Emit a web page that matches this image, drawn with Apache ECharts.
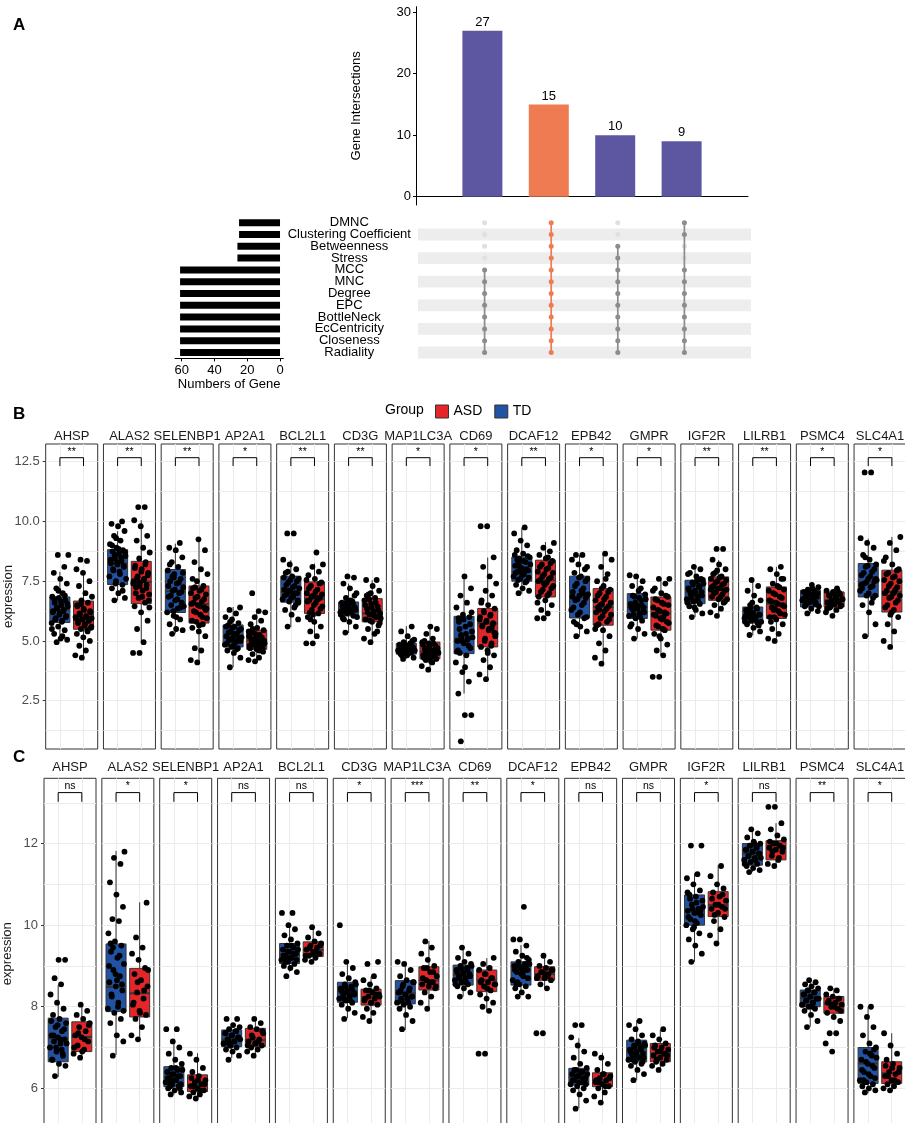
<!DOCTYPE html>
<html>
<head>
<meta charset="utf-8">
<title>Hub genes: UpSet and expression boxplots</title>
<script src="https://cdn.jsdelivr.net/npm/echarts@6.0.0/dist/echarts.min.js"></script>
<style>
  html, body { margin: 0; padding: 0; background: #fff; }
  #chart { width: 905px; height: 1123px; }
</style>
</head>
<body>
<div id="chart"></div>
<script>
// ---------- panel A data (UpSet) ----------
var setNames = ['DMNC', 'Clustering Coefficient', 'Betweenness', 'Stress', 'MCC', 'MNC',
  'Degree', 'EPC', 'BottleNeck', 'EcCentricity', 'Closeness', 'Radiality'];
var setSizes = [25, 25, 26, 26, 61, 61, 61, 61, 61, 61, 61, 61];
var interSizes = [27, 15, 10, 9];
// one row per intersection, one flag per set (same order as setNames)
var interMembers = [
  [0, 0, 0, 0, 1, 1, 1, 1, 1, 1, 1, 1],
  [1, 1, 1, 1, 1, 1, 1, 1, 1, 1, 1, 1],
  [0, 0, 1, 1, 1, 1, 1, 1, 1, 1, 1, 1],
  [1, 1, 0, 0, 1, 1, 1, 1, 1, 1, 1, 1]
];
var interTicks = [0, 10, 20, 30];
var setTicks = [0, 20, 40, 60];

// ---------- panels B / C data ----------
var genes = ['AHSP', 'ALAS2', 'SELENBP1', 'AP2A1', 'BCL2L1', 'CD3G', 'MAP1LC3A', 'CD69',
  'DCAF12', 'EPB42', 'GMPR', 'IGF2R', 'LILRB1', 'PSMC4', 'SLC4A1'];
var sigB = ['**', '**', '**', '*', '**', '**', '*', '*', '**', '*', '*', '**', '**', '*', '*'];
var sigC = ['ns', '*', '*', 'ns', 'ns', '*', '***', '**', '*', 'ns', 'ns', '*', 'ns', '**', '*'];
var ticksB = [2.5, 5, 7.5, 10, 12.5];
var ticksC = [6, 8, 10, 12];

// [lower whisker, Q1, median, Q3, upper whisker]
var boxB_TD = [
  [5.03, 5.77, 6.31, 6.84, 7.89], [6.70, 7.36, 8.24, 8.82, 9.59], [5.31, 6.19, 7.08, 7.99, 9.07],
  [3.91, 4.75, 5.17, 5.67, 6.42], [5.59, 6.62, 7.05, 7.71, 8.38], [5.33, 6.05, 6.31, 6.63, 7.40],
  [4.25, 4.45, 4.68, 4.90, 5.62], [2.80, 4.47, 5.10, 6.03, 7.68], [6.98, 7.50, 7.89, 8.51, 9.74],
  [5.17, 5.96, 6.84, 7.71, 8.59], [5.10, 5.94, 6.42, 6.98, 7.68], [6.00, 6.56, 7.05, 7.54, 8.10],
  [5.24, 5.75, 6.07, 6.42, 7.54], [6.15, 6.42, 6.77, 7.12, 7.33], [5.17, 6.84, 7.47, 8.24, 9.28]
];
var boxB_ASD = [
  [4.37, 5.49, 5.94, 6.67, 7.85], [4.96, 6.56, 7.47, 8.33, 10.05], [4.10, 5.75, 6.54, 7.30, 9.24],
  [4.12, 4.65, 5.03, 5.45, 6.28], [5.17, 6.15, 6.77, 7.47, 8.24], [4.93, 5.80, 6.15, 6.77, 7.54],
  [3.77, 4.25, 4.55, 4.95, 5.63], [3.36, 4.75, 5.73, 6.36, 8.49], [6.15, 6.84, 7.54, 8.38, 9.14],
  [4.05, 5.66, 6.42, 7.19, 8.66], [4.40, 5.45, 6.15, 6.84, 7.61], [6.07, 6.70, 7.19, 7.68, 8.38],
  [5.10, 5.94, 6.56, 7.26, 8.10], [6.03, 6.42, 6.70, 7.05, 7.19], [4.75, 6.21, 7.05, 7.96, 9.35]
];
var boxC_TD = [
  [6.28, 6.65, 7.23, 7.72, 8.53], [6.82, 7.88, 8.49, 9.54, 11.82], [5.84, 6.04, 6.28, 6.53, 7.14],
  [6.74, 7.02, 7.20, 7.43, 7.55], [8.86, 9.06, 9.29, 9.55, 10.04], [7.72, 8.11, 8.37, 8.60, 9.12],
  [7.43, 8.07, 8.33, 8.64, 9.10], [8.25, 8.53, 8.78, 9.02, 9.47], [8.33, 8.53, 8.90, 9.10, 9.51],
  [5.51, 6.08, 6.28, 6.49, 7.23], [6.20, 6.65, 6.90, 7.18, 7.67], [9.10, 10.00, 10.37, 10.74, 11.27],
  [11.30, 11.47, 11.76, 12.00, 12.37], [7.51, 8.00, 8.21, 8.41, 8.65], [5.88, 6.12, 6.61, 7.00, 8.00]
];
var boxC_ASD = [
  [6.74, 6.90, 7.26, 7.63, 8.04], [7.18, 7.75, 8.33, 8.94, 10.56], [5.75, 5.92, 6.08, 6.33, 6.86],
  [6.78, 7.02, 7.18, 7.47, 7.72], [9.10, 9.23, 9.39, 9.59, 10.00], [7.67, 8.04, 8.23, 8.43, 8.74],
  [7.96, 8.41, 8.65, 8.98, 9.61], [7.88, 8.37, 8.65, 8.90, 9.19], [8.45, 8.65, 8.80, 8.98, 9.23],
  [5.63, 6.04, 6.20, 6.38, 6.87], [6.45, 6.65, 6.86, 7.10, 7.43], [9.55, 10.21, 10.49, 10.82, 11.47],
  [11.43, 11.60, 11.88, 12.07, 12.50], [7.67, 7.84, 8.08, 8.25, 8.45], [5.96, 6.12, 6.37, 6.65, 7.35]
];

// individual samples (jittered points), one string per gene
var ptsB_TD = [
  '4.95 5.05 5.1 5.3 5.45 5.6 5.75 5.85 5.95 6.05 6.15 6.25 6.3 6.35 6.45 6.5 6.6 6.7 6.8 6.85 7.0 7.2 7.4 7.6 7.85 8.1 8.6 8.6 5.8 5.9 6.0 6.1 6.2 6.25 6.4 6.55 6.65 6.75 6.9 7.1 5.5 5.2',
  '6.7 6.8 7.0 7.2 7.35 7.5 7.7 7.8 7.95 8.1 8.2 8.25 8.35 8.45 8.55 8.65 8.75 8.8 8.9 9.05 9.2 9.4 9.6 9.8 9.9 10.0 7.4 7.6 7.9 8.0 8.15 8.3 8.4 8.5 8.6 8.7 8.85 9.0 7.1 9.3',
  '5.3 5.45 5.5 5.7 5.9 6.05 6.2 6.35 6.5 6.6 6.7 6.85 7.0 7.1 7.25 7.4 7.5 7.6 7.8 7.95 8.1 8.3 8.5 8.8 8.9 9.1 6.25 6.45 6.75 6.9 7.05 7.15 7.3 7.45 7.7 7.85 6.0 8.2 6.4 7.65',
  '3.9 4.3 4.5 4.6 4.7 4.75 4.85 4.95 5.05 5.1 5.15 5.2 5.3 5.4 5.5 5.6 5.65 5.75 5.9 6.0 6.15 6.3 6.4 4.8 4.9 5.0 5.05 5.15 5.25 5.35 5.45 5.55 5.6 4.65 5.8 5.0 5.3',
  '5.6 5.9 6.1 6.3 6.5 6.65 6.75 6.85 6.95 7.0 7.05 7.15 7.3 7.45 7.6 7.7 7.85 8.0 8.2 8.4 9.5 9.5 6.7 6.8 6.9 7.0 7.1 7.2 7.25 7.35 7.5 7.55 7.65 6.4 7.9 6.6',
  '5.35 5.6 5.8 5.95 6.05 6.15 6.2 6.3 6.35 6.4 6.5 6.6 6.65 6.8 7.0 7.2 7.4 7.65 7.7 6.1 6.2 6.25 6.3 6.35 6.45 6.55 6.6 6.0 6.7 5.9 6.9 6.4 6.25',
  '4.25 4.3 4.4 4.45 4.5 4.55 4.6 4.65 4.7 4.75 4.8 4.85 4.9 4.95 5.05 5.2 5.4 5.6 4.5 4.55 4.6 4.65 4.7 4.75 4.8 4.85 4.9 4.6 4.7 4.4 5.0 4.65',
  '0.8 1.9 1.9 2.8 3.3 3.7 4.1 4.4 4.5 4.7 4.9 5.0 5.1 5.2 5.4 5.6 5.8 6.0 6.1 6.4 6.6 6.9 7.2 7.7 4.6 4.8 5.0 5.15 5.3 5.5 5.7 5.9 4.55 5.05 5.25 6.2 3.9 5.95',
  '7.0 7.1 7.2 7.35 7.5 7.6 7.7 7.8 7.9 7.95 8.05 8.15 8.3 8.45 8.5 8.65 8.8 9.0 9.2 9.5 9.75 7.55 7.65 7.75 7.85 8.0 8.1 8.2 8.35 8.4 8.55 7.9 8.6 7.45 8.25',
  '5.2 5.4 5.6 5.8 5.95 6.1 6.3 6.5 6.7 6.8 6.9 7.05 7.2 7.4 7.6 7.7 7.85 8.0 8.2 8.4 8.6 8.6 6.0 6.2 6.4 6.6 6.75 6.95 7.1 7.3 7.5 7.65 6.85 7.0 5.7 8.1',
  '5.1 5.3 5.5 5.7 5.85 5.95 6.05 6.15 6.3 6.4 6.45 6.55 6.7 6.85 6.95 7.1 7.3 7.5 7.7 7.75 6.0 6.1 6.2 6.35 6.4 6.5 6.6 6.75 6.8 6.9 6.25 6.5 5.6 7.2',
  '6.0 6.15 6.3 6.45 6.55 6.65 6.75 6.85 6.95 7.05 7.1 7.2 7.3 7.45 7.55 7.7 7.85 8.0 8.1 6.6 6.7 6.8 6.9 7.0 7.15 7.25 7.35 7.4 7.5 7.0 7.6 6.4 7.8',
  '5.25 5.4 5.55 5.7 5.75 5.85 5.95 6.0 6.05 6.1 6.2 6.3 6.4 6.5 6.7 6.9 7.1 7.3 7.55 5.8 5.9 6.0 6.1 6.15 6.25 6.35 6.4 5.8 6.0 6.2 5.65 6.6 6.05',
  '6.15 6.25 6.35 6.45 6.55 6.6 6.7 6.75 6.8 6.85 6.95 7.05 7.1 7.15 7.25 7.35 6.5 6.6 6.7 6.75 6.8 6.9 7.0 6.65 6.8 6.95 7.05 6.45 7.2 6.55',
  '5.2 5.7 6.2 6.5 6.8 6.9 7.1 7.25 7.4 7.5 7.6 7.75 7.9 8.1 8.2 8.4 8.6 8.9 9.1 9.3 12.05 12.05 6.9 7.0 7.2 7.3 7.45 7.55 7.7 7.85 8.0 8.15 7.35 6.6 8.5 7.6'
];
var ptsB_ASD = [
  '4.3 4.4 4.6 4.8 5.0 5.15 5.3 5.45 5.5 5.6 5.7 5.8 5.85 5.9 5.95 6.0 6.1 6.2 6.3 6.45 6.6 6.7 6.85 7.0 7.3 7.5 7.85 8.0 8.35 8.4 5.55 5.65 5.75 5.85 5.9 6.0 6.05 6.15 6.25 6.35 6.5 5.4 6.55 5.95',
  '4.5 4.5 4.95 5.5 5.85 6.2 6.45 6.6 6.8 6.95 7.1 7.25 7.35 7.45 7.5 7.6 7.7 7.85 8.0 8.15 8.3 8.45 8.7 8.9 9.2 9.4 9.8 10.05 10.6 10.6 6.7 6.85 7.0 7.2 7.3 7.4 7.55 7.65 7.75 7.9 8.05 8.2 7.45 6.4',
  '4.1 4.2 4.6 4.7 5.2 5.4 5.55 5.7 5.8 5.95 6.1 6.25 6.4 6.5 6.55 6.65 6.8 6.95 7.1 7.2 7.3 7.5 7.8 8.0 8.3 8.8 9.25 5.85 6.0 6.2 6.35 6.45 6.6 6.75 6.85 7.0 7.15 7.25 6.3 5.65 7.6',
  '4.15 4.2 4.3 4.45 4.55 4.65 4.7 4.8 4.85 4.9 4.95 5.0 5.05 5.1 5.2 5.25 5.35 5.45 5.55 5.7 5.85 6.0 6.2 6.25 7.0 4.7 4.75 4.8 4.9 4.95 5.0 5.05 5.1 5.15 5.3 5.4 4.6 5.5 4.85',
  '4.9 4.9 5.2 5.4 5.6 5.8 6.0 6.15 6.3 6.45 6.6 6.7 6.8 6.9 7.0 7.15 7.3 7.45 7.6 7.75 7.9 8.1 8.2 8.7 6.2 6.35 6.5 6.65 6.75 6.85 6.95 7.05 7.2 7.4 6.1 7.55 6.8 5.9',
  '4.95 5.1 5.3 5.5 5.65 5.8 5.9 6.0 6.1 6.15 6.25 6.35 6.45 6.55 6.7 6.8 6.95 7.1 7.3 7.55 7.55 5.85 5.95 6.05 6.2 6.3 6.4 6.5 6.6 6.75 5.75 6.15 6.9 5.4 7.0',
  '3.8 3.95 4.1 4.2 4.25 4.3 4.4 4.45 4.5 4.55 4.6 4.7 4.8 4.9 4.95 5.1 5.3 5.5 5.6 4.3 4.35 4.45 4.5 4.55 4.6 4.65 4.75 4.85 4.9 4.4 4.7 4.15 5.0',
  '3.4 3.6 3.9 4.2 4.4 4.6 4.75 4.9 5.1 5.3 5.5 5.65 5.75 5.85 6.0 6.1 6.2 6.35 6.5 6.7 6.9 7.1 7.4 7.7 8.1 8.5 9.8 9.8 4.8 5.0 5.2 5.45 5.6 5.7 5.8 5.9 6.05 6.25 5.35 4.5 6.6 5.55',
  '5.95 5.95 6.15 6.3 6.5 6.7 6.85 7.0 7.15 7.3 7.45 7.55 7.65 7.8 7.9 8.05 8.2 8.35 8.45 8.6 8.75 8.9 9.1 6.9 7.05 7.2 7.35 7.5 7.6 7.7 7.85 8.0 8.1 8.25 7.4 6.6 8.5',
  '4.05 4.3 4.6 4.9 5.2 5.45 5.65 5.8 5.95 6.1 6.25 6.4 6.45 6.55 6.7 6.85 7.0 7.15 7.3 7.5 7.8 8.1 8.4 8.65 5.7 5.9 6.05 6.2 6.35 6.5 6.6 6.75 6.9 7.05 7.2 5.5 7.6 6.3',
  '3.5 3.5 4.4 4.6 4.85 5.1 5.3 5.45 5.6 5.75 5.9 6.05 6.15 6.25 6.4 6.55 6.7 6.85 7.0 7.2 7.4 7.6 7.6 5.5 5.65 5.8 5.95 6.1 6.2 6.3 6.5 6.6 6.75 6.9 5.2 7.1 6.0',
  '6.05 6.2 6.35 6.5 6.65 6.75 6.85 6.95 7.05 7.15 7.2 7.3 7.4 7.5 7.6 7.7 7.85 8.0 8.2 8.4 8.85 8.85 6.75 6.85 7.0 7.1 7.2 7.25 7.35 7.45 7.55 7.65 7.8 6.6 7.95 7.15',
  '5.0 5.1 5.3 5.5 5.7 5.9 6.0 6.15 6.3 6.45 6.55 6.65 6.8 6.95 7.1 7.25 7.4 7.6 7.8 8.0 8.1 6.0 6.1 6.25 6.4 6.5 6.6 6.7 6.85 7.0 7.15 7.3 5.8 7.6 6.35',
  '6.05 6.2 6.3 6.4 6.45 6.55 6.6 6.65 6.7 6.75 6.85 6.9 7.0 7.05 7.1 7.2 6.45 6.5 6.55 6.6 6.65 6.7 6.75 6.8 6.9 6.95 7.0 6.35 7.1 6.6',
  '4.75 5.0 5.4 5.7 6.0 6.2 6.4 6.6 6.8 6.9 7.0 7.1 7.25 7.4 7.55 7.7 7.85 8.0 8.2 8.5 8.8 9.1 9.35 6.3 6.5 6.7 6.85 7.0 7.15 7.3 7.5 7.65 7.8 7.95 6.1 8.35 7.05'
];
var ptsC_TD = [
  '6.3 6.55 6.6 6.7 6.8 6.9 7.0 7.1 7.15 7.2 7.25 7.3 7.4 7.5 7.6 7.7 7.8 7.95 8.1 8.3 8.55 8.7 9.15 9.15 6.7 6.85 7.0 7.1 7.2 7.3 7.45 7.55 7.65 6.95',
  '6.8 7.15 7.3 7.6 7.7 7.85 7.95 8.1 8.25 8.4 8.5 8.6 8.75 8.9 9.05 9.2 9.35 9.5 9.6 9.8 10.1 10.15 10.45 10.75 11.05 11.5 11.65 11.8 8.0 8.3 8.55 8.8 9.0 9.25 9.45 7.9 8.65 9.55',
  '5.85 5.9 5.95 6.0 6.05 6.1 6.15 6.2 6.25 6.3 6.35 6.4 6.45 6.5 6.6 6.7 6.85 7.0 7.15 7.45 7.45 6.05 6.1 6.2 6.25 6.3 6.35 6.45 6.5 6.15 6.0',
  '6.7 6.8 6.9 6.95 7.0 7.05 7.1 7.15 7.2 7.25 7.3 7.35 7.4 7.45 7.5 7.55 7.7 7.7 7.05 7.1 7.15 7.2 7.25 7.3 7.35 7.4 7.1 7.2',
  '8.75 8.85 8.95 9.0 9.05 9.1 9.15 9.2 9.25 9.3 9.35 9.4 9.45 9.5 9.55 9.65 9.75 9.9 10.0 10.3 10.3 9.1 9.15 9.2 9.25 9.3 9.35 9.4 9.5 9.2 9.3',
  '7.7 7.85 7.95 8.05 8.1 8.15 8.2 8.25 8.3 8.35 8.4 8.45 8.5 8.55 8.6 8.7 8.8 8.95 9.1 10.0 8.15 8.2 8.3 8.35 8.4 8.45 8.5 8.55 8.25 8.35',
  '7.45 7.65 7.8 7.95 8.0 8.05 8.1 8.15 8.2 8.25 8.3 8.35 8.4 8.5 8.6 8.65 8.75 8.9 9.05 9.1 8.1 8.15 8.25 8.3 8.35 8.45 8.55 8.6 8.2 8.4',
  '8.25 8.35 8.45 8.5 8.55 8.6 8.65 8.7 8.75 8.8 8.85 8.9 8.95 9.0 9.05 9.1 9.2 9.3 9.45 8.55 8.6 8.7 8.75 8.8 8.85 8.9 8.95 9.0 8.65',
  '8.25 8.25 8.35 8.45 8.5 8.55 8.65 8.75 8.85 8.9 8.95 9.0 9.05 9.1 9.15 9.25 9.35 9.5 9.65 9.65 10.45 8.6 8.7 8.8 8.9 8.95 9.0 9.05 8.85 8.55 9.2',
  '5.5 5.7 5.85 5.95 6.0 6.05 6.1 6.15 6.2 6.25 6.3 6.35 6.4 6.45 6.5 6.6 6.75 6.9 7.05 7.25 7.55 7.55 6.1 6.15 6.2 6.25 6.3 6.35 6.4 6.45 6.2 6.3',
  '6.2 6.35 6.45 6.55 6.6 6.65 6.7 6.75 6.8 6.85 6.9 6.95 7.0 7.05 7.1 7.15 7.2 7.3 7.45 7.55 7.65 6.7 6.75 6.8 6.9 6.95 7.0 7.05 7.1 6.85 6.65',
  '9.1 9.3 9.5 9.65 9.8 9.9 10.0 10.05 10.15 10.25 10.3 10.35 10.4 10.5 10.6 10.7 10.75 10.85 11.0 11.15 11.25 11.95 11.95 10.1 10.2 10.3 10.4 10.45 10.55 10.65 10.35 9.95 10.8',
  '11.3 11.35 11.4 11.45 11.5 11.55 11.6 11.65 11.7 11.75 11.8 11.85 11.9 11.95 12.0 12.05 12.15 12.25 12.35 11.5 11.6 11.7 11.75 11.8 11.85 11.9 11.95 11.65 12.0',
  '7.5 7.65 7.8 7.9 7.95 8.0 8.05 8.1 8.15 8.2 8.25 8.3 8.35 8.4 8.45 8.5 8.55 8.6 8.65 8.05 8.1 8.15 8.2 8.25 8.3 8.35 8.4 8.2 8.0',
  '5.9 5.95 6.0 6.05 6.1 6.15 6.2 6.3 6.4 6.5 6.6 6.7 6.8 6.9 7.0 7.1 7.3 7.5 7.75 8.0 8.0 6.15 6.25 6.35 6.45 6.55 6.65 6.75 6.85 6.2 6.95'
];
var ptsC_ASD = [
  '6.75 6.85 6.95 7.05 7.15 7.25 7.3 7.4 7.5 7.6 7.7 7.8 7.9 8.05 7.0 7.2 7.35 7.55 6.9',
  '7.2 7.3 7.5 7.7 7.8 7.9 8.05 8.2 8.35 8.5 8.65 8.8 8.95 9.15 9.3 9.45 9.7 10.55 7.85 8.1 8.4 8.6 8.9',
  '5.75 5.8 5.85 5.9 5.95 6.0 6.05 6.1 6.15 6.2 6.3 6.4 6.5 6.7 6.85 5.95 6.05 6.1 6.2 6.25',
  '6.8 6.9 6.95 7.0 7.05 7.1 7.15 7.2 7.25 7.35 7.45 7.5 7.6 7.7 7.05 7.15 7.3 7.4 7.1',
  '9.1 9.15 9.2 9.25 9.3 9.35 9.4 9.45 9.5 9.55 9.6 9.7 9.8 9.95 9.25 9.35 9.45 9.5 9.3',
  '7.65 7.75 7.85 7.95 8.05 8.1 8.15 8.2 8.25 8.3 8.35 8.4 8.45 8.55 8.65 8.75 9.05 9.1 8.1 8.2 8.3 8.4 8.25',
  '7.95 8.1 8.25 8.35 8.45 8.5 8.55 8.6 8.65 8.75 8.85 8.95 9.0 9.15 9.3 9.45 9.6 8.5 8.6 8.7 8.85 8.95',
  '6.85 6.85 7.9 8.0 8.1 8.2 8.3 8.4 8.5 8.55 8.6 8.65 8.7 8.8 8.9 8.95 9.05 9.2 8.45 8.6 8.7 8.8 8.55',
  '7.35 7.35 8.45 8.55 8.65 8.7 8.75 8.8 8.85 8.9 8.95 9.0 9.1 9.25 8.7 8.75 8.85 8.9 8.8',
  '5.65 5.8 5.9 6.0 6.05 6.1 6.15 6.2 6.25 6.3 6.35 6.45 6.6 6.75 6.85 6.05 6.15 6.25 6.35 6.2',
  '6.45 6.55 6.6 6.65 6.7 6.75 6.8 6.85 6.9 6.95 7.0 7.05 7.1 7.2 7.3 7.45 6.7 6.8 6.9 7.0 6.85',
  '9.55 9.75 9.9 10.1 10.2 10.3 10.4 10.45 10.5 10.6 10.7 10.8 10.9 11.0 11.2 11.45 10.25 10.4 10.5 10.65 10.75',
  '11.45 11.5 11.6 11.7 11.8 11.85 11.9 11.95 12.0 12.1 12.2 12.35 12.5 12.9 12.9 11.65 11.8 11.9 12.0 12.05',
  '6.9 7.1 7.35 7.35 7.65 7.75 7.85 7.95 8.0 8.05 8.1 8.15 8.2 8.25 8.3 8.4 8.45 7.9 8.0 8.1 8.2 8.05',
  '5.95 6.0 6.05 6.1 6.15 6.2 6.3 6.35 6.4 6.5 6.6 6.7 6.85 7.05 7.35 6.2 6.3 6.4 6.5 6.55'
];

// ---------- styles ----------
var FONT = '"Liberation Sans", Arial, Helvetica, sans-serif';
var PURPLE = '#5D57A2';
var ORANGE = '#EE7B51';
var DOT_ON = '#8C8C8C';
var DOT_OFF = '#E0E0E0';
var TD_COLOR = '#2152A3';
var ASD_COLOR = '#E42628';
var LINE_COLOR = '#EBEBEB';
var BOX_W = 20;

var titles = [];
var grids = [];
var xAxes = [];
var yAxes = [];
var series = [];
var tickAxes = [];   // extra tick-only y axes, appended after the facet axes

function nums(s) {
  return s.split(' ').map(Number);
}

// horizontal spread of the jittered points, in x units
function jitter(j) {
  return ((j * 0.6180339887 + 0.31) % 1 - 0.5) * 0.72;
}

function onTicks(list, digits) {
  return function (v) {
    for (var i = 0; i < list.length; i++) {
      if (Math.abs(list[i] - v) < 1e-6) return v.toFixed(digits);
    }
    return '';
  };
}

function addGrid(g) {
  g.outerBoundsMode = 'none';
  g.containLabel = false;
  grids.push(g);
  return grids.length - 1;
}

// ================= panel A =================
titles.push({ text: 'A', left: 13, top: 17, padding: 0, textStyle: { fontSize: 17, fontWeight: 'bold', color: '#000' } });

// intersection size bars
var gBar = addGrid({ left: 416, top: 6.7, width: 332, height: 198.3 });
xAxes.push({
  gridIndex: gBar, type: 'value', min: 0, max: 5,
  axisLine: { onZero: true, lineStyle: { color: '#000', width: 1 } },
  axisTick: { show: false }, axisLabel: { show: false }, splitLine: { show: false }
});
yAxes.push({
  gridIndex: gBar, type: 'value', min: -1.35, max: 30.9, minInterval: 10, maxInterval: 10,
  axisLine: { show: true, lineStyle: { color: '#000', width: 1 } },
  axisTick: { show: true, length: 3, customValues: interTicks, lineStyle: { color: '#000' } },
  axisLabel: { customValues: interTicks, showMinLabel: true, showMaxLabel: true, fontSize: 13, color: '#000', margin: 5, formatter: onTicks(interTicks, 0) },
  splitLine: { show: false },
  name: 'Gene Intersections', nameLocation: 'middle', nameGap: 53,
  nameTextStyle: { fontSize: 13, color: '#000' }
});
series.push({
  type: 'bar', xAxisIndex: gBar, yAxisIndex: gBar, barWidth: 40, silent: true,
  data: interSizes.map(function (v, i) {
    return { value: [i + 1, v], itemStyle: { color: i === 1 ? ORANGE : PURPLE } };
  }),
  label: { show: true, position: 'top', distance: 2, fontSize: 13, color: '#000' }
});

// membership matrix
var gMat = addGrid({ left: 418, top: 216.8, width: 333, height: 141.6 });
xAxes.push({ gridIndex: gMat, type: 'value', min: 0, max: 5, show: false });
yAxes.push({
  gridIndex: gMat, type: 'category', data: setNames, inverse: true,
  axisLine: { show: false }, axisTick: { show: false }, axisLabel: { show: false },
  splitLine: { show: false },
  splitArea: { show: true, interval: 0, areaStyle: { color: ['rgba(255,255,255,0)', '#EDEDED'] } }
});
var offDots = [], onDots = [];
interMembers.forEach(function (m, c) {
  var first = -1, last = -1;
  m.forEach(function (f, r) {
    if (f) {
      if (first < 0) first = r;
      last = r;
      onDots.push({ value: [c + 1, setNames[r]], itemStyle: { color: c === 1 ? ORANGE : DOT_ON } });
    } else {
      offDots.push([c + 1, setNames[r]]);
    }
  });
  series.push({
    type: 'line', xAxisIndex: gMat, yAxisIndex: gMat, silent: true, symbol: 'none', z: 3,
    data: [[c + 1, setNames[first]], [c + 1, setNames[last]]],
    lineStyle: { color: c === 1 ? ORANGE : DOT_ON, width: 1.7 }
  });
});
series.push({ type: 'scatter', xAxisIndex: gMat, yAxisIndex: gMat, silent: true, z: 2, symbolSize: 5, data: offDots, itemStyle: { color: DOT_OFF, opacity: 1 } });
series.push({ type: 'scatter', xAxisIndex: gMat, yAxisIndex: gMat, silent: true, z: 4, symbolSize: 5, data: onDots, itemStyle: { opacity: 1 } });

// set size bars (reversed axis)
var gSet = addGrid({ left: 175, top: 216.8, width: 108.3, height: 141.6 });
xAxes.push({
  gridIndex: gSet, type: 'value', inverse: true, min: -2, max: 64.1, minInterval: 20, maxInterval: 20,
  axisLine: { show: true, onZero: false, lineStyle: { color: '#000', width: 1 } },
  axisTick: { show: true, length: 3, customValues: setTicks, lineStyle: { color: '#000' } },
  axisLabel: { customValues: setTicks, showMinLabel: true, showMaxLabel: true, fontSize: 13, color: '#000', margin: 6, formatter: onTicks(setTicks, 0) },
  splitLine: { show: false },
  name: 'Numbers of Gene', nameLocation: 'middle', nameGap: 18,
  nameTextStyle: { fontSize: 13, color: '#000' }
});
yAxes.push({
  gridIndex: gSet, type: 'category', data: setNames, inverse: true, position: 'right',
  axisLine: { show: false, onZero: false }, axisTick: { show: false }, splitLine: { show: false },
  axisLabel: { interval: 0, fontSize: 13, color: '#000', align: 'center', margin: 66, lineHeight: 12 }
});
series.push({ type: 'bar', xAxisIndex: gSet, yAxisIndex: gSet, silent: true, barWidth: 7, data: setSizes, itemStyle: { color: '#000' } });

// ================= panels B and C =================
function renderBox(params, api) {
  var x = api.value(0);
  var lo = api.coord([x, api.value(1)]);
  var q1 = api.coord([x, api.value(2)]);
  var md = api.coord([x, api.value(3)]);
  var q3 = api.coord([x, api.value(4)]);
  var hi = api.coord([x, api.value(5)]);
  var h = BOX_W / 2;
  var edge = { stroke: '#333', lineWidth: 1 };
  return {
    type: 'group',
    children: [
      { type: 'line', shape: { x1: lo[0], y1: lo[1], x2: q1[0], y2: q1[1] }, style: edge },
      { type: 'line', shape: { x1: q3[0], y1: q3[1], x2: hi[0], y2: hi[1] }, style: edge },
      { type: 'rect', shape: { x: q3[0] - h, y: q3[1], width: BOX_W, height: q1[1] - q3[1] },
        style: { fill: api.visual('color'), stroke: '#333', lineWidth: 1 } },
      { type: 'line', shape: { x1: md[0] - h, y1: md[1], x2: md[0] + h, y2: md[1] },
        style: { stroke: '#333', lineWidth: 2 } }
    ]
  };
}

function bracket(label, p) {
  return function (params, api) {
    var cs = params.coordSys;
    var a = api.coord([1, p.min])[0];
    var b = api.coord([2, p.min])[0];
    var yt = cs.y + p.brTop, yb = cs.y + p.brBot;
    return {
      type: 'group',
      children: [
        { type: 'polyline', shape: { points: [[a, yb], [a, yt], [b, yt], [b, yb]] },
          style: { stroke: '#000', lineWidth: 1, fill: 'none' } },
        { type: 'text', style: { x: (a + b) / 2, y: yt - 0.5, text: label, align: 'center', verticalAlign: 'bottom',
          fontSize: 10.5, fontFamily: FONT, fill: '#000' } }
      ]
    };
  };
}

function addFacets(p) {
  titles.push({ text: p.key, left: 13, top: p.letterTop, padding: 0, textStyle: { fontSize: 17, fontWeight: 'bold', color: '#000' } });
  genes.forEach(function (gene, i) {
    var left = p.left + i * p.pitch;
    var gi = addGrid({ left: left, top: p.top, width: 52, height: p.height, show: true, backgroundColor: '#fff', borderColor: '#333', borderWidth: 1 });
    var first = i === 0;
    xAxes.push({
      gridIndex: gi, type: 'value', position: 'top', min: 0.4, max: 2.6, minInterval: 1, maxInterval: 1,
      axisLine: { show: false }, axisTick: { show: false }, axisLabel: { show: false },
      splitLine: { show: true, showMinLine: false, showMaxLine: false, lineStyle: { color: LINE_COLOR, width: 1 } },
      name: gene, nameLocation: 'middle', nameGap: p.stripGap,
      nameTextStyle: { fontSize: 13, color: '#1A1A1A' }
    });
    // grid lines follow the scale step (major + minor); labels only on the major values
    yAxes.push({
      gridIndex: gi, type: 'value', min: p.min, max: p.max, minInterval: p.step, maxInterval: p.step,
      axisLine: { show: false },
      axisTick: { show: false },
      axisLabel: { show: first, customValues: p.ticks, showMinLabel: true, showMaxLabel: true, fontSize: 13, color: '#4D4D4D', margin: 6, formatter: onTicks(p.ticks, p.digits) },
      splitLine: { show: true, showMinLine: false, showMaxLine: false, lineStyle: { color: LINE_COLOR, width: 1 } },
      name: first ? 'expression' : '', nameLocation: 'middle', nameGap: p.nameGap, nameMoveOverlap: false,
      nameTextStyle: { fontSize: 13, color: '#1A1A1A' }
    });
    if (first) {
      // tick marks at the labelled values only
      tickAxes.push({
        gridIndex: gi, type: 'value', position: 'left', min: p.min, max: p.max,
        axisLine: { show: false }, axisLabel: { show: false }, splitLine: { show: false },
        axisTick: { show: true, length: 3, customValues: p.ticks, lineStyle: { color: '#333' } }
      });
    }

    ['TD', 'ASD'].forEach(function (grp, k) {
      series.push({
        type: 'custom', name: grp, xAxisIndex: gi, yAxisIndex: gi, silent: true, z: 2,
        itemStyle: { color: k === 0 ? TD_COLOR : ASD_COLOR },
        encode: { x: 0, y: [1, 2, 3, 4, 5] },
        data: [[k + 1].concat(p.box[k][i])],
        renderItem: renderBox
      });
    });

    var pts = [];
    p.pts.forEach(function (list, k) {
      nums(list[i]).forEach(function (v, j) {
        pts.push([k + 1 + jitter(j + k * 5), v]);
      });
    });
    series.push({
      type: 'scatter', xAxisIndex: gi, yAxisIndex: gi, silent: true, z: 3,
      symbolSize: 5.8, itemStyle: { color: '#000', opacity: 1 }, data: pts
    });

    series.push({
      type: 'custom', xAxisIndex: gi, yAxisIndex: gi, silent: true, z: 4,
      data: [[1.5, p.min]], encode: { x: 0, y: 1 },
      renderItem: bracket(p.sig[i], p)
    });
  });
}

addFacets({
  key: 'B', letterTop: 406, left: 45.7, pitch: 57.74, top: 444, height: 305,
  min: 0.48, max: 13.24, step: 1.25, ticks: ticksB, digits: 1, stripGap: 1, nameGap: 30.5,
  box: [boxB_TD, boxB_ASD], pts: [ptsB_TD, ptsB_ASD], sig: sigB, brTop: 13.7, brBot: 22
});
addFacets({
  key: 'C', letterTop: 749, left: 44, pitch: 57.85, top: 778.3, height: 350.8,
  min: 5.0, max: 13.6, step: 1, ticks: ticksC, digits: 0, stripGap: 4, nameGap: 30,
  box: [boxC_TD, boxC_ASD], pts: [ptsC_TD, ptsC_ASD], sig: sigC, brTop: 14.3, brBot: 23.5
});
yAxes = yAxes.concat(tickAxes);

// group legend (panel B header)
titles.push({ text: 'Group', left: 385, top: 403, padding: 0, textStyle: { fontSize: 14, fontWeight: 'normal', color: '#000' } });

var option = {
  animation: false,
  backgroundColor: '#fff',
  textStyle: { fontFamily: FONT },
  title: titles,
  legend: {
    left: 435, top: 404.5, padding: 0, itemWidth: 13, itemHeight: 13, itemGap: 12,
    selectedMode: false, icon: 'rect', data: ['ASD', 'TD'],
    itemStyle: { borderColor: '#333', borderWidth: 1 },
    textStyle: { fontSize: 14, color: '#000' }
  },
  grid: grids,
  xAxis: xAxes,
  yAxis: yAxes,
  series: series
};

var chart = echarts.init(document.getElementById('chart'), null, { renderer: 'canvas' });
chart.setOption(option);
</script>
</body>
</html>
